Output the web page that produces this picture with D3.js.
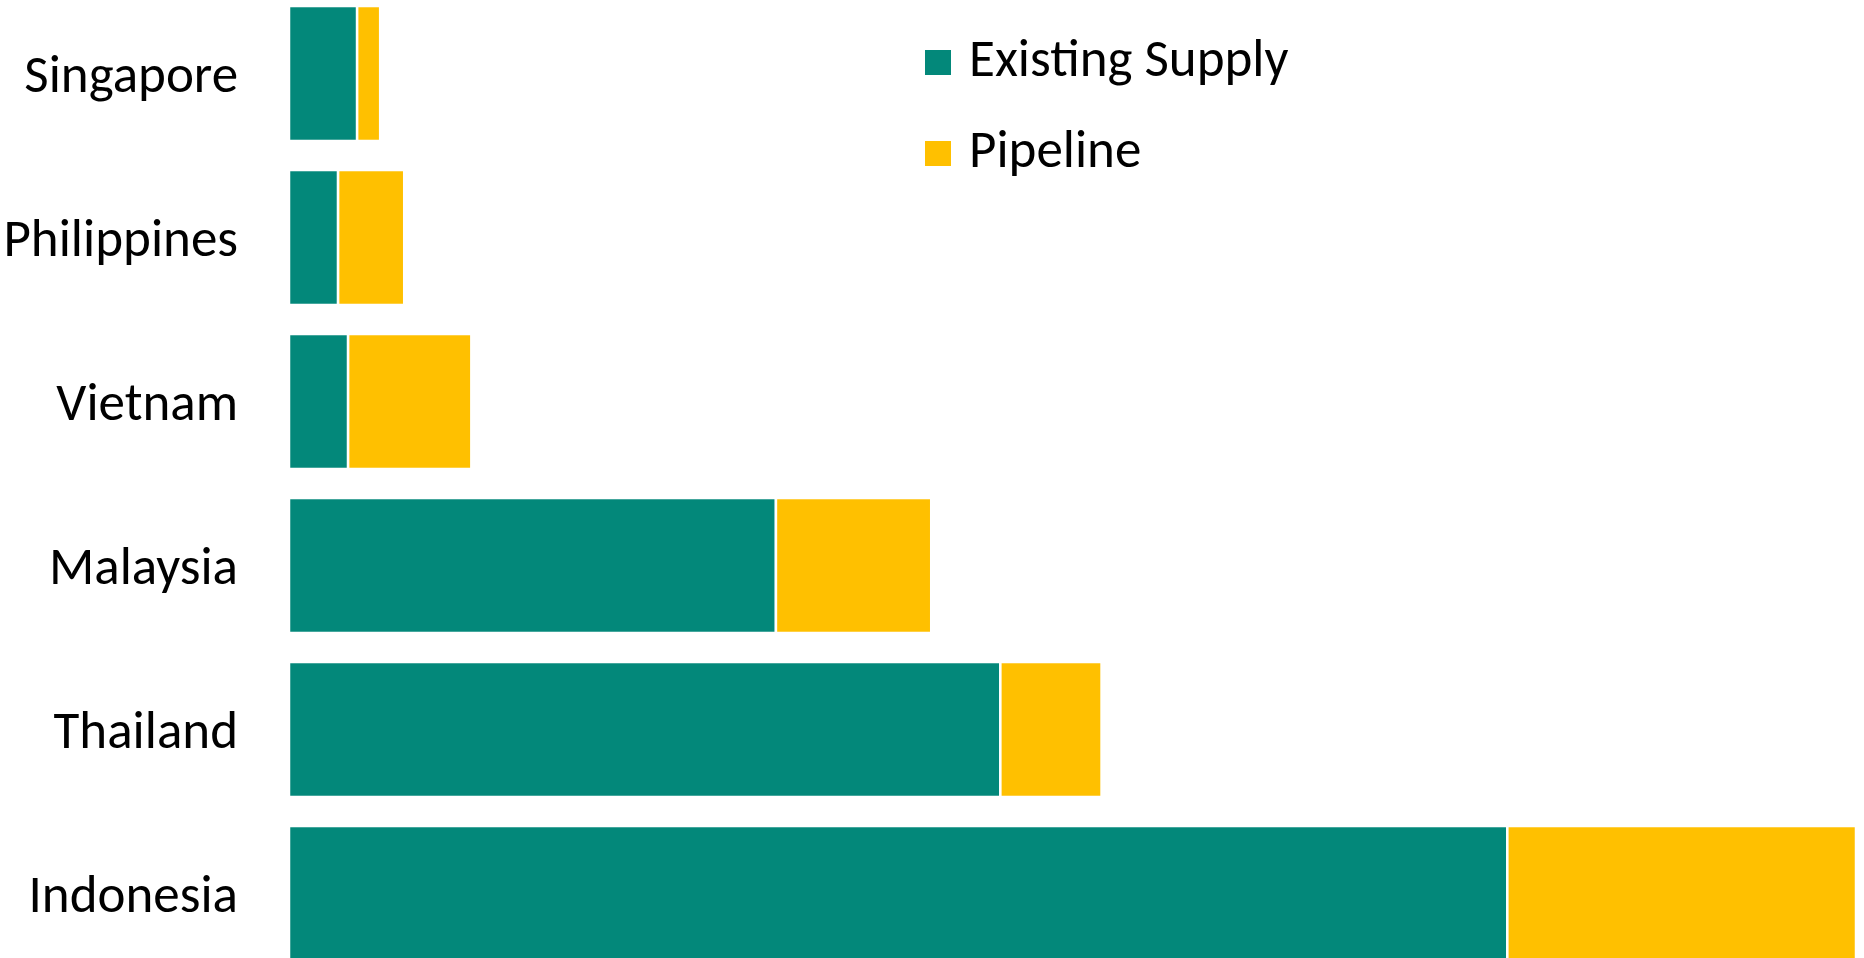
<!DOCTYPE html>
<html>
<head>
<meta charset="utf-8">
<script src="https://cdn.jsdelivr.net/npm/d3@7"></script>
<style>
    body { margin: 0; background: #fff; }
    svg { display: block; }
    text { font-family: Carlito, Lato, "Open Sans", sans-serif; fill: #000; }
</style>
</head>
<body>
<div id="chart"></div>
<script>
// Categories, top to bottom
const countries = ["Singapore", "Philippines", "Vietnam", "Malaysia", "Thailand", "Indonesia"];

// Series values
const existingSupply = [6.8, 4.9, 5.9, 48.6, 71.0, 121.6];
const pipeline = [2.3, 6.6, 12.3, 15.5, 10.1, 34.8];

const seriesNames = ["Existing Supply", "Pipeline"];
const seriesColors = ["#03887a", "#ffc000"];

const width = 1864, height = 958;

const rows = countries.map((c, i) => ({ country: c, "Existing Supply": existingSupply[i], "Pipeline": pipeline[i] }));

const stacked = d3.stack().keys(seriesNames)(rows);

const x = d3.scaleLinear()
    .domain([0, d3.max(rows, d => d["Existing Supply"] + d["Pipeline"])])
    .range([289, 1856]);

const y = d3.scaleBand()
    .domain(countries)
    .range([-8.5, 975.5])
    .paddingInner(0.177)
    .paddingOuter(0.0885);

const color = d3.scaleOrdinal().domain(seriesNames).range(seriesColors);

const svg = d3.select("#chart")
    .append("svg")
    .attr("width", width)
    .attr("height", height);

// Bars
svg.append("g")
    .selectAll("g")
    .data(stacked)
    .join("g")
    .attr("fill", d => color(d.key))
    .selectAll("rect")
    .data(d => d)
    .join("rect")
    .attr("x", d => x(d[0]))
    .attr("y", d => y(d.data.country))
    .attr("width", d => x(d[1]) - x(d[0]))
    .attr("height", y.bandwidth())
    .attr("stroke", "#fff")
    .attr("stroke-width", 2.5);

// Category labels
const yAxis = svg.append("g")
    .attr("transform", "translate(250,0)")
    .call(d3.axisLeft(y).tickSize(0).tickPadding(12));
yAxis.select(".domain").remove();
yAxis.selectAll("text")
    .style("font-family", "Carlito, Lato, 'Open Sans', sans-serif")
    .attr("font-size", 53)
    .attr("fill", "#000")
    .attr("dy", "0.34em");

// Legend
const legend = svg.append("g")
    .selectAll("g")
    .data(seriesNames)
    .join("g")
    .attr("transform", (d, i) => `translate(925,${50 + i * 91})`);

legend.append("rect")
    .attr("width", 26)
    .attr("height", 25)
    .attr("fill", d => color(d));

legend.append("text")
    .attr("x", 44)
    .attr("y", 26)
    .attr("font-size", 53)
    .text(d => d);
</script>
</body>
</html>
